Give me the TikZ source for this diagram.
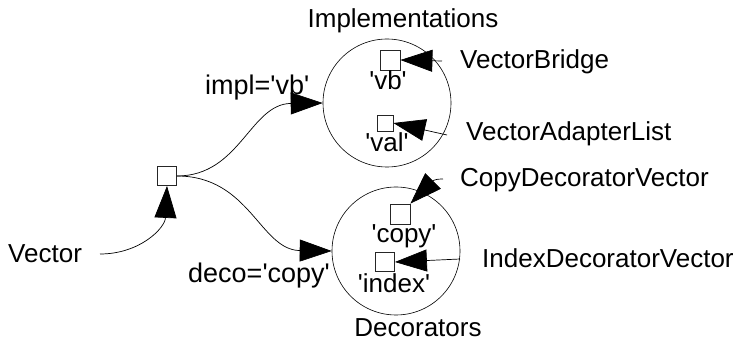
\documentclass[tikz,border=0pt]{standalone}
\usepackage{fontspec}
\setmainfont{Liberation Sans}
\usetikzlibrary{arrows.meta}
\newcommand{\myq}{\textquotesingle}
\begin{document}
\begin{tikzpicture}[x=1pt,y=-1pt,
  big/.style={font=\fontsize{26}{29}\selectfont, inner sep=0pt},
  mid/.style={font=\fontsize{26}{29}\selectfont, inner sep=0pt},
  edge/.style={font=\fontsize{27}{30}\selectfont, inner sep=0pt},
  small/.style={font=\fontsize{26}{29}\selectfont, inner sep=0pt},
  keybox/.style={draw=black!85, line width=0.8pt, minimum size=#1, inner sep=0pt},
  grp/.style={draw, circle, line width=0.6pt, minimum size=128pt, inner sep=0pt},
  arr/.style={-{Triangle[length=32pt,width=22pt]}, line width=0.7pt}
]
\useasboundingbox (0,0) rectangle (740,342);
% groups
\node[grp] (impl) at (387,103) {};
\node[grp] (deco) at (396,251) {};
\node[mid, anchor=base] (impltitle) at (403,28) {Implementations};
\node[mid, anchor=base] (decotitle) at (418,337) {Decorators};
% source
\node[keybox=19pt] (src) at (167,176) {};
\node[big, anchor=base west] (vector) at (8,262) {Vector};
\coordinate (vstart) at (100,254);
% keys
\node[keybox=20pt] (vb) at (390,60) {};
\node[small, anchor=base] (vblab) at (388,90) {\myq vb\myq};
\node[keybox=16pt] (val) at (385,123) {};
\node[small, anchor=base] (vallab) at (387,152) {\myq val\myq};
\node[keybox=20pt] (copy) at (400,214) {};
\node[small, anchor=base] (copylab) at (404,243) {\myq copy\myq};
\node[keybox=19pt] (index) at (385,262) {};
\node[small, anchor=base] (indexlab) at (394,292) {\myq index\myq};
% class names
\node[big, anchor=base west] (vbname) at (460,69) {VectorBridge};
\node[big, anchor=base west] (valname) at (466,141) {VectorAdapterList};
\node[big, anchor=base west] (copyname) at (460,187) {CopyDecoratorVector};
\node[big, anchor=base west] (indexname) at (482,268) {IndexDecoratorVector};
\coordinate (vbs) at (442,61);
\coordinate (vals) at (447,135);
\coordinate (copys) at (443,179);
\coordinate (indexs) at (460,259);
% edge labels
\node[edge, anchor=base west] (impllab) at (205,95) {impl=\myq vb\myq};
\node[edge, anchor=base west] (decolab) at (188,283) {deco=\myq copy\myq};
% connectors
\draw[arr] (vstart) .. controls (140,254) and (165,228) .. (src.south);
\draw[arr] (src.east) .. controls (240,176) and (250,104) .. (impl.west);
\draw[arr] (src.east) .. controls (250,176) and (260,250) .. (deco.west);
\draw[arr] (vbs) -- (vb.east);
\draw[arr] (vals) -- (val.east);
\draw[arr] (copys) .. controls (432,179) and (432,182) .. (copy.north east);
\draw[arr] (indexs) -- (index.east);
\end{tikzpicture}
\end{document}
